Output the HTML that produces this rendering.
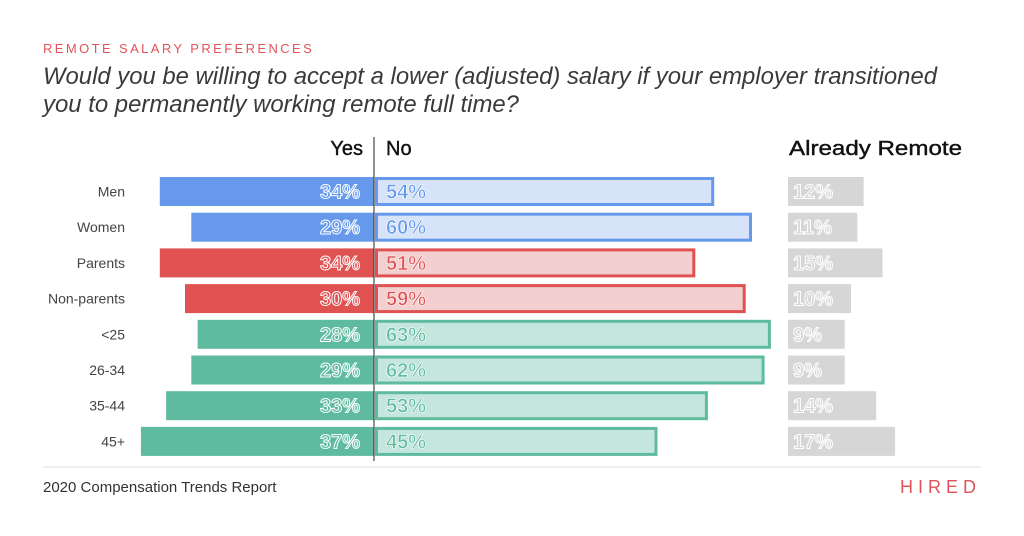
<!DOCTYPE html>
<html><head><meta charset="utf-8"><style>
html,body{margin:0;padding:0;background:#fff;}
svg{display:block;font-family:"Liberation Sans",sans-serif;}
</style></head><body>
<svg id="chart" width="1024" height="536" viewBox="0 0 1024 536">
<text x="43" y="53" font-size="13" fill="#e0545a" letter-spacing="2.2" textLength="271">REMOTE SALARY PREFERENCES</text>
<text x="43" y="84" font-size="24" font-style="italic" fill="#3a3a3a" textLength="894" lengthAdjust="spacingAndGlyphs">Would you be willing to accept a lower (adjusted) salary if your employer transitioned</text>
<text x="43" y="112" font-size="24" font-style="italic" fill="#3a3a3a" textLength="476" lengthAdjust="spacingAndGlyphs">you to permanently working remote full time?</text>
<text x="363" y="155" font-size="20" text-anchor="end" fill="#111" stroke="#111" stroke-width="0.4">Yes</text>
<text x="386" y="155" font-size="20" fill="#111" stroke="#111" stroke-width="0.4">No</text>
<text x="789" y="155" font-size="20" fill="#111" stroke="#111" stroke-width="0.4" textLength="173" lengthAdjust="spacingAndGlyphs">Already Remote</text>
<g id="bars"></g>
<line x1="374" y1="137" x2="374" y2="461" stroke="#222" stroke-width="1"/>
<line x1="43" y1="467" x2="981" y2="467" stroke="#ddd" stroke-width="1"/>
<text x="43" y="492" font-size="15" fill="#333">2020 Compensation Trends Report</text>
<text x="981" y="493" font-size="18" fill="#e0545a" text-anchor="end" letter-spacing="5">HIRED</text>
</svg>
<script>
const categories=["Men","Women","Parents","Non-parents","<25","26-34","35-44","45+"];
const yesValues=[34,29,34,30,28,29,33,37];
const noValues=[54,60,51,59,63,62,53,45];
const remoteValues=[12,11,15,10,9,9,14,17];
const groups=["gender","gender","parent","parent","age","age","age","age"];
const dark={gender:"#6699ec",parent:"#e05252",age:"#5fbb9f"};
const light={gender:"#d6e3f9",parent:"#f3cfcf",age:"#c4e6dc"};
const NS="http://www.w3.org/2000/svg";
const g=document.getElementById("bars");
const scale=6.3, cx=374, remoteX=788;
const xYes=v=>cx-v*scale, xNo=v=>cx+v*scale, wRem=v=>v*6.3;
const yRow=i=>177+i*35.7, bh=29;
function mk(tag,attrs){const e=document.createElementNS(NS,tag);for(const k in attrs)e.setAttribute(k,attrs[k]);g.appendChild(e);return e;}
categories.forEach((c,i)=>{
  const y=yRow(i), grp=groups[i];
  const lab=mk("text",{x:125,y:y+bh/2+5,"font-size":14,fill:"#444","text-anchor":"end"});
  lab.textContent=c;
  
  
  const yb=mk("rect",{x:xYes(yesValues[i]),y:y,width:cx-xYes(yesValues[i]),height:bh,fill:dark[grp]});
  
  
  const yt=mk("text",{x:cx-14,y:y+bh/2+7,"font-size":20,"font-weight":"bold",fill:dark[grp],stroke:"#fff","stroke-width":1,"text-anchor":"end"});
  yt.textContent=yesValues[i]+"%";
  
  
  const nb=mk("rect",{x:cx+2.5,y:y+1.5,width:xNo(noValues[i])-cx-4,height:bh-3,fill:light[grp],stroke:dark[grp],"stroke-width":3});
  
  
  const nt=mk("text",{x:cx+12,y:y+bh/2+7,"font-size":20,"font-weight":"bold",fill:dark[grp],stroke:"#fff","stroke-width":0.6});
  nt.textContent=noValues[i]+"%";
  
  
  const rb=mk("rect",{x:remoteX,y:y,width:wRem(remoteValues[i]),height:bh,fill:"#d6d6d6"});
  
  
  const rt=mk("text",{x:remoteX+5,y:y+bh/2+7,"font-size":20,"font-weight":"bold",fill:"#d6d6d6",stroke:"#fff","stroke-width":1});
  rt.textContent=remoteValues[i]+"%";
  
  
});
</script>
</body></html>
